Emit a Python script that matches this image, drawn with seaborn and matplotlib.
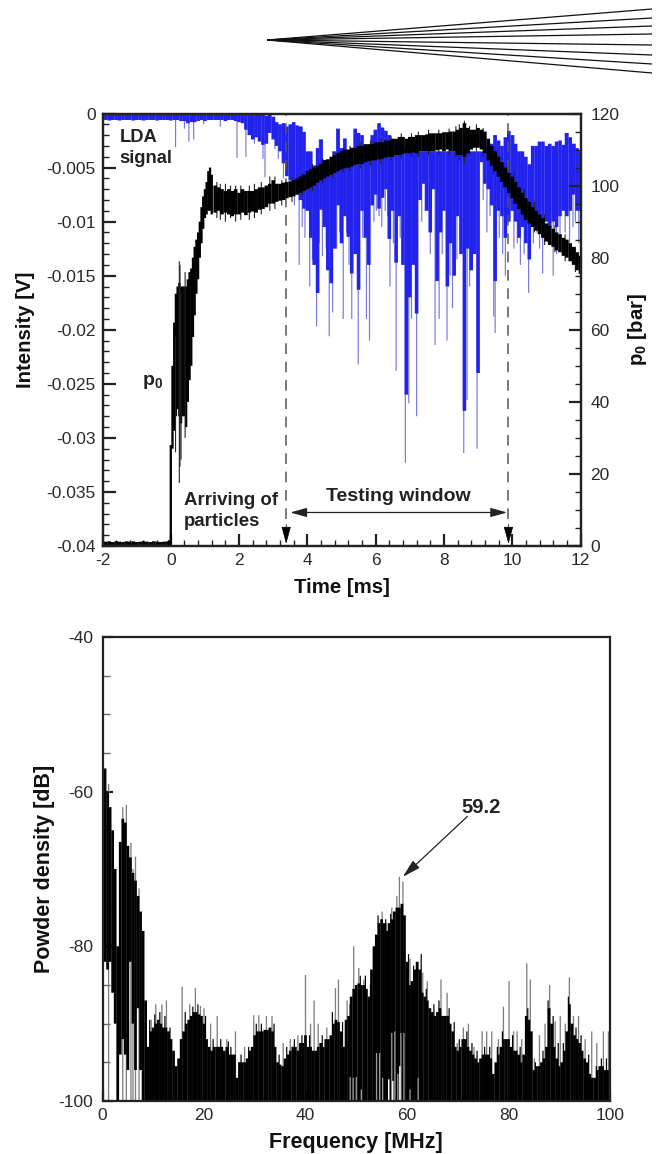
import numpy as np
import pandas as pd
import matplotlib
matplotlib.use("Agg")
import matplotlib.pyplot as plt
import seaborn as sns
from matplotlib.ticker import MultipleLocator, FixedLocator

sns.set_style("ticks")
plt.rcParams['font.family'] = ['Liberation Sans', 'DejaVu Sans']
plt.rcParams['mathtext.fontset'] = 'custom'
plt.rcParams['mathtext.bf'] = 'Liberation Sans:bold'
plt.rcParams['mathtext.rm'] = 'Liberation Sans'
plt.rcParams['lines.solid_capstyle'] = 'butt'
plt.rcParams['axes.unicode_minus'] = False

# ---------- fan of rays (picture coordinates, px) ----------
fan_apex_x = 267
fan_apex_y = 40
fan_end_x = 652
fan_end_y = [9, 18, 26, 34, 45, 55, 64, 73]

# ---------- LDA signal (mV), one value per 0.1 ms from -2 to 12 ms ----------
blue_top = [0.0]*42 + [
    -0.1,-0.1,-0.1,-0.1,-0.1,-0.1,-0.2,-0.1,-0.3,-0.8,-1.0,-0.9,-1.2,-1.0,-0.8,-1.1,-1.2,-1.7,
    -3.5,-3.5,-4.8,-3.2,-2.4,-4.3,-5.0,-4.5,-3.5,-1.4,-3.2,-2.3,-3.5,-4.0,-1.4,-1.8,-2.0,-3.0,-3.3,-2.0,
    -1.5,-0.9,-1.3,-1.6,-2.0,-2.5,-2.6,-2.8,-3.0,-3.5,-3.5,-3.5,-3.5,-3.5,-3.5,-3.5,-3.5,-3.5,-3.5,-3.5,
    -3.5,-3.5,-3.5,-3.5,-3.5,-3.5,-3.5,-3.5,-3.5,-3.5,-3.5,-3.5,-3.5,-3.0,-2.8,-2.0,-2.5,-3.0,-2.2,-1.6,-2.0,-2.8,
    -3.5,-3.5,-4.0,-4.7,-3.0,-3.0,-2.6,-2.6,-3.0,-2.8,-3.0,-2.6,-2.5,-2.9,-1.8,-2.2,-2.8,-3.2,-3.5]
blue_bot = [
    -0.6,-0.6,-0.65,-0.6,-0.6,-0.65,-0.6,-0.6,-0.6,-0.65,-0.6,-0.6,-0.65,-0.6,-0.6,-0.6,-0.65,-0.6,-0.6,-0.6,-0.65,
    -0.6,-0.6,-0.7,-0.7,-0.9,-0.8,-0.8,-0.7,-0.6,-0.7,-0.6,-0.6,-0.6,-0.6,-0.6,-0.7,-0.6,-0.6,-0.7,-0.8,-0.9,
    -1.5,-2.0,-2.4,-2.2,-2.6,-2.9,-2.8,-1.8,-2.4,-3.0,-3.5,-4.6,-5.8,-6.2,-6.4,-7.5,-8.0,-8.8,
    -9.0,-11.5,-14.0,-16.6,-8.9,-10.5,-14.5,-15.7,-12.5,-8.5,-12.0,-9.5,-11.4,-14.8,-13.0,-16.3,-9.0,-11.5,-14.0,-8.5,
    -7.5,-8.8,-7.8,-7.0,-11.6,-9.0,-13.8,-9.5,-14.0,-26.0,-17.0,-14.0,-18.5,-8.0,-6.5,-9.0,-11.0,-7.0,-15.5,-11.0,
    -9.0,-16.0,-12.0,-15.0,-9.5,-13.0,-27.5,-12.5,-14.5,-13.0,-24.0,-4.5,-6.5,-7.0,-8.5,-15.5,-9.0,-9.5,-11.5,-10.0,
    -9.0,-10.0,-11.5,-10.5,-12.0,-13.5,-10.5,-9.5,-10.0,-11.0,-10.0,-10.5,-10.0,-10.5,-9.5,-9.0,-9.5,-9.0,-7.5,-9.0,-9.0]
spike_t = [0.14,0.53,0.67,0.4,0.96,1.94,2.2,1.45,2.7,2.76,2.45,3.3,3.76,3.93,4.07,4.27,4.44,4.64,4.74,4.86,
           5.05,5.3,5.49,5.73,5.82,6.02,6.1,6.28,6.42,6.6,6.87,6.97,7.2,7.6,7.74,7.86,8.09,8.25,8.58,8.68,8.75,
           8.97,9.26,9.46,9.5,9.8,10.05,10.24,10.48,10.72,10.89,11.2,11.4,11.68,11.85,
           3.05,3.15,3.62,3.85,4.15,4.35,4.55,4.95,5.15,5.22,5.62,5.95,6.18,6.35,6.52,6.72,7.05,7.35,7.45,7.95,
           8.18,8.38,8.48,9.15,9.35,9.62,9.72,10.15,10.35,10.62,10.8,11.05,11.3,11.55,11.78,11.95]
spike_mv = [-3.1,-2.6,-2.4,-1.4,-1.0,-4.1,-4.0,-1.2,-4.2,-5.9,-2.8,-6,-14,-11.5,-16,-19.7,-13.2,-20.6,-18.4,-12.5,
            -19,-19,-23.2,-19,-21,-9,-9.5,-9,-16,-23.8,-32.3,-26.8,-28,-13,-21.4,-19,-21,-18,-31.4,-26.5,-16,
            -31,-11,-18.8,-20.3,-15,-12.5,-14,-16.6,-11,-14.8,-15,-12,-12,-10,
            -3.3,-4.2,-8.5,-10.5,-13.5,-12,-12.5,-11,-11,-14,-11.5,-10,-10.5,-9.5,-12,-11.5,-19,-10,-9,-13,
            -15,-13.5,-12,-8,-9.5,-11.5,-13,-12,-13,-12,-12.5,-12,-13,-11,-10.5,-12]

# ---------- stagnation pressure p0 (bar) ----------
p_pre_t = [-2.0,-1.9,-1.8,-1.7,-1.6,-1.5,-1.4,-1.3,-1.2,-1.1,-1.0,-0.9,-0.8,-0.7,-0.6,-0.5,-0.4,-0.3,-0.2,-0.1,-0.03]
p_pre_top = [1.3,1.2,1.3,1.1,1.3,1.2,1.1,1.3,1.2,1.3,1.1,1.2,1.3,1.2,1.1,1.3,1.2,1.1,1.2,1.3,1.6]
p_pre_bot = [0.3]*21
p_rise_t = [0.0,0.05,0.10,0.15,0.20,0.25,0.30,0.35,0.40,0.45,0.50,0.55,0.60,0.65,0.70,0.75,0.80,0.85,0.90,0.95,1.00,1.05,1.10,1.15,1.20]
p_rise_top = [28,50,62,70,72,73,72,72,72,72,74,76,77,80,83,85,87,90,94,97,99,101,104,105,103]
p_rise_bot = [0,27,32,36,38,36,34,36,36,33,40,46,50,58,64,70,74,80,84,88,91,92,93,93,92]
p_main_top = [100,99.5,99,98.5,99,98.5,99,98,99,98.5,98.5,98.5,99,99.5,99.5,100,100.5,101.5,100.5,100.5,100.8,
              101,101.2,101.5,102,102.5,103,104,104.5,105,105.5,106,107,107.3,108,108.5,109,109.5,110,110,110.5,
              110.5,111,111,111.5,111.5,111.5,112,112,112,112.5,112.5,113,113,113.5,113.5,113,113.5,113.5,114,
              114,114,114.2,114.5,114.5,114.5,114.5,114.8,114.8,115,115,115.5,116,117.3,116,115.5,115.5,116,115.5,
              115,113,111,109.5,108,106.5,105,103.5,102.5,101,99.5,98,96.5,95.5,94,93,92,91,89.5,88.8,88,87,86.5,
              85.5,85,84,83,81.5,80.5]
p_main_bot = [92.5,93,92,92.5,92,91.5,92,92,92.5,91.8,92.5,92.8,92.5,93.3,93.5,94,95,95,95.5,95.8,96,
              96.5,96.8,97,97.5,98,98.5,99,99.5,100,100.8,101.5,102,102.5,103,103.5,104,104.5,104.8,105,105.3,
              105.8,106,106,106.5,106.8,107,107,107.3,107.5,107.8,108,108,108.5,108.5,108.8,109,109,109.2,109,
              109.5,109.5,109.5,109.5,109.5,109.8,110,109.5,110,109.5,109.5,108.5,108.5,108,109,110,110.5,110.5,110,
              109,107,105.5,104,102.5,101,99.5,98,96.5,95,93.5,92,90.5,89.5,88.5,87.5,86.5,85.5,84.5,83.5,83,82,81.5,
              80.5,80,79,78,76.5,75.5]
p_spike_t = [0.25,0.27,0.42,0.14,0.30,1.35,1.6,1.9,2.3,2.9,8.6,8.58,
             1.45,1.75,2.05,2.45,2.65,3.05,3.25,3.55,3.85,4.15,4.45,4.75,5.05,5.25,5.55,5.85,6.15,6.45,
             6.75,7.05,7.25,7.55,7.85,8.15,8.35,8.45,8.75,8.95,9.15,9.45,9.75,10.05,10.35,10.65,10.95,11.25,11.55,11.85]
p_spike_hi = [79,78,76,58,70,101,100.5,100,100,102.5,118,117,
              100.5,100,100,100.5,101,102.5,101.5,102.5,103.5,106,107.5,109.5,110.5,111,112,112.5,113,113.8,
              114.5,114.5,115,115.5,115.5,115.8,116.5,117,116.5,117,116,110.5,105.5,103.5,99,95.5,92,89,86.5,83]
p_spike_lo = [17.5,22,30,26,24,91,90,90,90.5,93,106,107,
              90.5,91,90.5,91,92,93.5,94.5,95.5,97,98.5,100.5,102,103.5,104,104.8,105.5,106,107,
              107.5,108,108,108.5,108.5,108.5,108,107,108.5,109.5,108,103,99.5,95,90.5,87,83.5,81.5,79,76]

# ---------- spectrum (dB), one value per 0.5 MHz from 0 to 100 MHz ----------
spec_top = [-56.3,-57,-60,-62,-65,-70,-80,-66.5,-63.5,-64,-67,-68.5,-70.5,-71.5,-73.5,-75.5,-78,-87,-93,-91,
    -90.5,-90,-89.5,-90,-90.5,-90.5,-91,-92,-93.5,-95.5,-94.5,-92,-91,-90,-89.5,-89,-88.5,-88.5,-88.8,-89,
    -90,-92,-93,-93.5,-93,-93,-93,-93,-93.5,-93,-94,-94,-94,-97,-95,-95,-95,-94.5,-93.5,-93,
    -91.5,-91,-91,-91,-90.8,-90.8,-90.5,-91,-93,-95,-95.3,-95.5,-94.5,-94,-93.5,-93,-93,-93.5,-92.5,-92.5,
    -91.5,-93,-93,-93.5,-93.5,-93,-92.5,-93,-92,-92,-91.5,-90,-89.5,-89.8,-91,-93,-89.5,-89,-86.5,-85.5,
    -85,-84.8,-85,-85,-85.5,-86.5,-83,-80,-78.5,-77,-76.5,-77,-78,-77,-76.5,-75.5,-75,-75,-74.5,-76,
    -82,-85,-84.5,-83,-82,-83,-86,-86.5,-87,-88,-88.5,-89,-88.5,-88,-89,-89,-89,-90,-91,-93,
    -93.5,-93,-92,-92,-93,-93.5,-94,-94.5,-95,-94.5,-94,-94,-94,-94.5,-96.5,-95,-94,-93,-92,-92,
    -92,-93,-93.5,-93.5,-94,-95,-94,-89,-89.5,-91,-96,-95.5,-95.5,-95,-94.5,-93,-88,-90,-93,-94.5,
    -95.5,-95,-93.5,-91,-87.5,-90,-91.5,-92,-92.5,-93.5,-94.5,-95,-96.5,-97,-97,-96,-95.5,-95.5,-96,-96,-96]
spec_floor = [-100,-82,-83,-82,-86,-90,-100,-94,-92,-94,-96,-82,-90,-96,-88,-96,-100] + [-100]*184
gray_f = [1.2,4.0,4.7,5.6,6.0,6.5,7.2,9.6,10.5,11.7,12.6,13.0,15.7,17.2,18.3,19.3,20.0,21.3,22.6,24.5,26.2,26.9,28.0,
          29.8,30.8,32.3,33.4,35.6,37.0,38.5,40.0,41.0,41.7,42.5,44.2,45.9,46.5,48.2,49.5,50.5,51.5,55.1,56.0,57.0,58.0,
          58.5,59.2,60.6,62.1,63.1,64.0,66.7,67.9,69.9,71.1,72.1,73.2,74.8,75.7,76.7,78.0,79.0,80.1,81.0,81.7,82.6,83.6,84.3,
          85.1,86.1,87.2,88.1,89.2,90.2,91.2,92.0,92.8,93.8,95.1,96.4,97.4,98.7,99.7]
gray_db = [-59,-62,-61.7,-66.6,-70,-68.4,-72.5,-89.5,-87.5,-87.5,-87,-91,-85.2,-87.5,-85.4,-87.7,-88,-90,-89,-92,-91,-95,-93,
           -88.9,-88.9,-89,-89,-92.5,-92,-91.5,-83.7,-90,-87,-90,-90.5,-85.4,-84.3,-87,-80,-82.8,-84.3,-75.5,-77,-75,-73.5,
           -71,-71.6,-81.6,-82,-83.4,-84.5,-84.3,-86,-92.5,-90.5,-90,-93,-91,-91,-91,-92,-87.8,-84.5,-91,-91,-92,-82.2,-84.3,
           -94.5,-91.5,-90,-85,-89.7,-89,-90,-84,-89,-89,-92,-91,-92.5,-91,-91]
tooth_f = [9.3,10.3,11.3,12.3,13.3,16.3,17.8,18.8,20.3,21.8,23.3,24.8,25.3,27.3,28.8,30.3,31.3,33.8,34.8,36.3,37.8,39.3,40.8,43.3,
           45.3,47.3,48.8,50.8,51.8,52.8,53.8,54.3,55.8,56.8,60.3,61.3,62.8,63.8,65.3,66.3,68.3,69.3,70.3,71.8,72.8,73.8,75.3,
           76.3,77.8,78.8,80.8,82.3,83.8,85.3,86.8,87.8,88.8,89.8,90.8,91.8,93.3,94.3,95.8,97.3,98.3,99.3]
tooth_db = [-89.5,-88.8,-88.5,-89,-90.5,-88.5,-87.8,-87.5,-89,-92,-92,-92.3,-93,-94,-93,-90,-90,-90,-94,-93,-92,-91.5,-91.5,-91.5,
            -88.5,-89.8,-87.5,-83.8,-83.8,-85,-78.5,-76,-76.5,-75.8,-81,-82.5,-81,-85.5,-87.5,-87,-88,-89.8,-92,-91,-92.5,-93.5,-93,
            -93,-93,-91,-91.5,-93,-88,-95,-93.5,-87,-89,-92.5,-92.5,-86.5,-90.5,-91.5,-94,-95.5,-94.5,-94.5]
hole_f = [48.8,49.4,50.0,51.0,54.0,54.6,55.2,57.0,57.6,58.2,58.8,59.4,60.6,62.2]
hole_db = [-96.9,-97,-96.9,-98.5,-93.8,-93.8,-97,-91.2,-91,-96.5,-91.2,-91.2,-98.5,-97]
white_f = [56.4,57.2,58.6]
white_db = [-97.2,-97.4,-95.5]

# ---------- axis texts ----------
y1_ticks = [0,-0.005,-0.01,-0.015,-0.02,-0.025,-0.03,-0.035,-0.04]
y1_labels = ['0','-0.005','-0.01','-0.015','-0.02','-0.025','-0.03','-0.035','-0.04']


def segments(ax, x, top, bot, color, px):
    """one vertical stroke per x, through seaborn's line plotter"""
    x = np.asarray(x, float)
    df = pd.DataFrame({'x': np.concatenate([x, x]),
                       'y': np.concatenate([np.asarray(top, float), np.asarray(bot, float)]),
                       'u': np.concatenate([np.arange(len(x)), np.arange(len(x))])})
    sns.lineplot(data=df, x='x', y='y', units='u', estimator=None, color=color,
                 lw=px * 0.72, ax=ax, legend=False, solid_capstyle='butt')
    for ln in ax.lines:
        ln.set_snap(False)


W, H = 659, 1154
fig = plt.figure(figsize=(W / 100, H / 100), dpi=100)


def px_axes(l, t, r, b):
    return fig.add_axes([l / W, 1 - b / H, (r - l) / W, (b - t) / H])


EDGE = '#222222'
TXT = '#2a2a2a'


def style(ax):
    for s in ax.spines.values():
        s.set_linewidth(1.6)
        s.set_color(EDGE)


# ---- fan ----
axf = px_axes(fan_apex_x, 0, fan_end_x, 80)
axf.set_xlim(fan_apex_x, fan_end_x)
axf.set_ylim(80, 0)
axf.axis('off')
fan_df = pd.DataFrame({'x': [fan_apex_x, fan_end_x] * len(fan_end_y),
                       'y': [v for e in fan_end_y for v in (fan_apex_y, e)],
                       'u': [i for i in range(len(fan_end_y)) for _ in range(2)]})
sns.lineplot(data=fan_df, x='x', y='y', units='u', estimator=None, color='#111111', lw=0.9,
             ax=axf, legend=False)

# ---- top panel ----
ax1 = px_axes(102.5, 113.5, 580.5, 546)
blue_t = np.arange(len(blue_bot)) * 0.1 - 2
spike_top = [min(blue_top[int(round((t + 2) * 10))], -0.3) / 1000 for t in spike_t]
segments(ax1, spike_t, spike_top, [v / 1000 for v in spike_mv], '#7a7ae0', 1.2)
segments(ax1, blue_t, [v / 1000 for v in blue_top], [v / 1000 for v in blue_bot], '#2222ee', 3.6)
ax1.set_xlim(-2, 12)
ax1.set_ylim(-0.04, 0)
ax1.set_yticks(y1_ticks)
ax1.set_yticklabels(y1_labels)
ax1.yaxis.set_minor_locator(MultipleLocator(0.001))
ax1.xaxis.set_major_locator(MultipleLocator(2))
ax1.xaxis.set_minor_locator(MultipleLocator(0.4))
ax1.tick_params(axis='both', which='major', direction='in', length=9, width=1.6, labelsize=12.5,
                labelcolor=TXT, color=EDGE, pad=5, top=False)
ax1.tick_params(axis='both', which='minor', direction='in', length=4.5, width=1, color=EDGE, top=False)
ax1.set_xlabel('Time [ms]', fontsize=14.7, fontweight='bold', color='#111111')
ax1.set_ylabel('Intensity [V]', fontsize=14.7, fontweight='bold', color='#111111')
ax1.xaxis.set_label_coords(0.5, -0.074)
ax1.yaxis.set_label_coords(-0.142, 0.5)
style(ax1)

for tx in (3.38, 9.89):
    ax1.plot([tx, tx], [-0.0375, 0], color='#555555', lw=1.1, dashes=(7, 5))
ax1.text(-1.5, -0.0022, 'LDA', fontsize=13.2, fontweight='bold', ha='left', va='center', color='#222222')
ax1.text(-1.5, -0.0042, 'signal', fontsize=13.2, fontweight='bold', ha='left', va='center', color='#222222')
ax1.text(-0.85, -0.0248, r'$\mathbf{p_0}$', fontsize=14, ha='left', va='center', color='#222222')
ax1.text(0.38, -0.0358, 'Arriving of', fontsize=13.4, fontweight='bold', ha='left', va='center', color='#222222')
ax1.text(0.38, -0.0377, 'particles', fontsize=13.4, fontweight='bold', ha='left', va='center', color='#222222')
ax1.text(6.65, -0.0354, 'Testing window', fontsize=14, fontweight='bold', ha='center', va='center', color='#222222')
ax1.annotate('', xy=(3.5, -0.0369), xytext=(9.85, -0.0369),
             arrowprops=dict(arrowstyle='<|-|>,head_length=1.0,head_width=0.28', color='#222222', lw=0.9,
                             shrinkA=0, shrinkB=0))
for tx in (3.38, 9.89):
    ax1.annotate('', xy=(tx, -0.0398), xytext=(tx, -0.038),
                 arrowprops=dict(arrowstyle='-|>,head_length=1.1,head_width=0.3', color='black', lw=0.5,
                                 shrinkA=0, shrinkB=0))

ax2 = ax1.twinx()
segments(ax2, p_pre_t, p_pre_top, p_pre_bot, 'black', 3.6)
segments(ax2, p_rise_t, p_rise_top, p_rise_bot, 'black', 2.3)
segments(ax2, p_spike_t, p_spike_hi, p_spike_lo, '#222222', 1.1)
segments(ax2, np.arange(len(p_main_top)) * 0.1 + 1.3, p_main_top, p_main_bot, 'black', 3.6)
ax2.set_ylim(0, 120)
ax2.set_xlim(-2, 12)
ax2.yaxis.set_major_locator(MultipleLocator(20))
ax2.yaxis.set_minor_locator(MultipleLocator(5))
ax2.tick_params(axis='y', which='major', direction='in', length=9, width=1.6, labelsize=12.5,
                labelcolor=TXT, color=EDGE, pad=7)
ax2.tick_params(axis='y', which='minor', direction='in', length=4.5, width=1, color=EDGE)
ax2.set_ylabel(r'$\mathbf{p_0}$ [bar]', fontsize=14.7, fontweight='bold', color='#111111')
ax2.yaxis.set_label_coords(1.096, 0.5)
style(ax2)

# ---- bottom panel ----
ax3 = px_axes(102.5, 637, 610, 1101)
spec_f = np.arange(len(spec_top)) * 0.5
segments(ax3, gray_f, [-100] * len(gray_f), gray_db, '#7f7f7f', 1.3)
segments(ax3, spec_f, spec_floor, spec_top, 'black', 2.75)
segments(ax3, tooth_f, [-100] * len(tooth_f), tooth_db, 'black', 1.2)
segments(ax3, hole_f, [-100] * len(hole_f), hole_db, '#9a9a9a', 1.3)
segments(ax3, white_f, [-100] * len(white_f), white_db, 'white', 1.5)
ax3.set_xlim(0, 100)
ax3.set_ylim(-100, -40)
ax3.xaxis.set_major_locator(MultipleLocator(20))
ax3.yaxis.set_major_locator(MultipleLocator(20))
ax3.yaxis.set_minor_locator(MultipleLocator(5))
ax3.tick_params(axis='y', which='major', direction='in', length=7, width=1.6, labelsize=12.5,
                labelcolor=TXT, color=EDGE, pad=7, right=False)
ax3.tick_params(axis='x', which='major', direction='in', length=7, width=1.6, labelsize=12.5,
                labelcolor=TXT, color=EDGE, pad=5, top=False)
ax3.tick_params(axis='y', which='minor', direction='in', length=5, width=1, color='#666666', right=False)
ax3.set_xlabel('Frequency [MHz]', fontsize=15.5, fontweight='bold', color='#111111')
ax3.set_ylabel('Powder density [dB]', fontsize=15.5, fontweight='bold', color='#111111')
ax3.xaxis.set_label_coords(0.5, -0.067)
ax3.yaxis.set_label_coords(-0.094, 0.5)
style(ax3)
ax3.text(74.6, -62.1, '59.2', fontsize=14.5, fontweight='bold', ha='center', va='center', color='#222222')
ax3.annotate('', xy=(59.2, -71.0), xytext=(71.9, -63.2),
             arrowprops=dict(arrowstyle='-|>,head_length=1.1,head_width=0.3', color='#222222', lw=0.9,
                             shrinkA=0, shrinkB=0))

fig.savefig('out.png', dpi=100)
